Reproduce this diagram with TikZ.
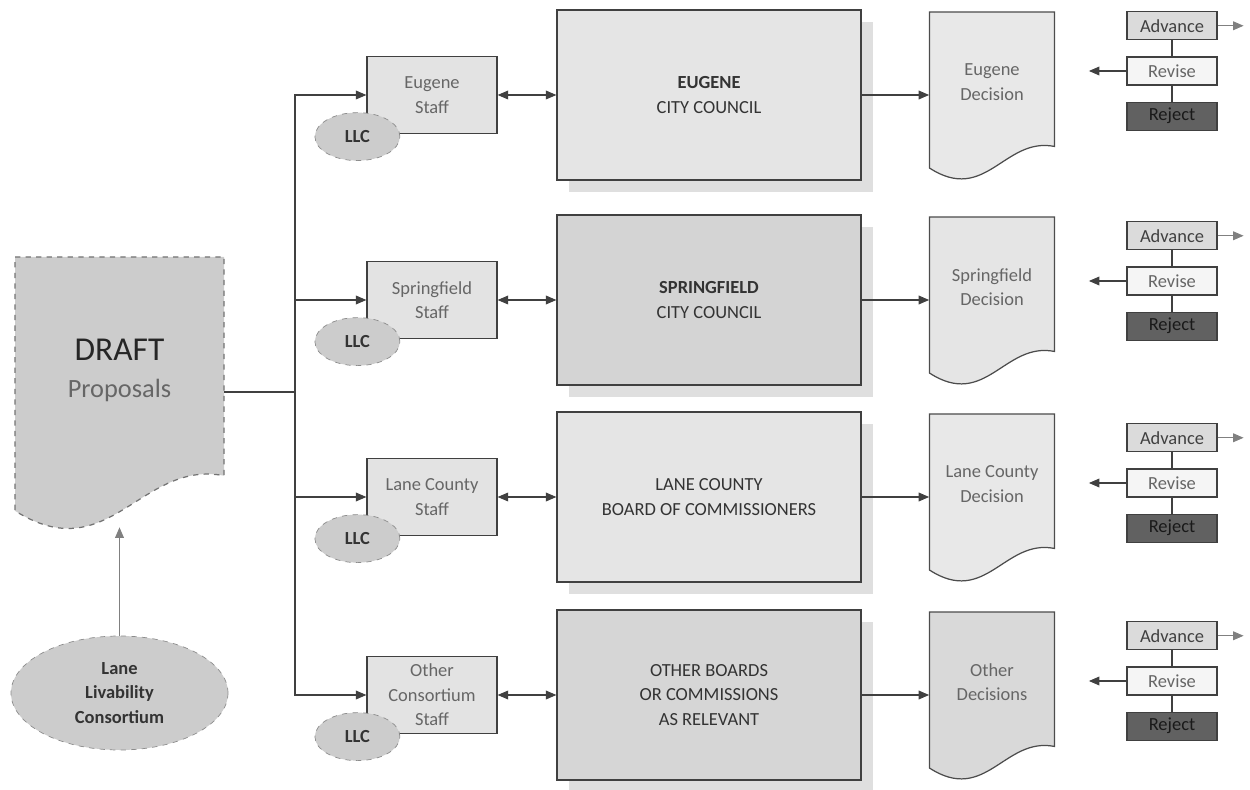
\documentclass[tikz,border=0pt]{standalone}
\usepackage{fontspec}
\setmainfont{Carlito}
\usetikzlibrary{calc,positioning,shapes.geometric,shadows,arrows.meta}

% document shape with a wavy bottom: name, x, y (centre), width, height, style
\newcommand{\drawDoc}[6]{%
  \begin{scope}[shift={({#2-#4/2},{#3+#5/2})}, xscale=#4, yscale=#5]
    \path[docline, #6] (0,0) -- (1,0) -- (1,-0.81)
      .. controls (0.6,-0.75) and (0.45,-1.16) .. (0,-0.94) -- cycle;
  \end{scope}
  \node[docbox, minimum width=#4cm, minimum height=#5cm] (#1) at (#2,#3) {};
}

\begin{document}
\begin{tikzpicture}[
  >={Triangle[length=6pt,width=5pt]},
  every node/.style={font=\fontsize{10.5}{14}\selectfont, align=center},
  conn/.style={draw=black!75, line width=0.6pt},
  lightconn/.style={draw=black!50, line width=0.6pt},
  box/.style={rectangle, draw=black!75, line width=0.7pt, fill=gray!22, text=black!60, inner sep=0pt},
  council/.style={box, text=black!80, general shadow={fill=gray!25, shadow xshift=0.24cm, shadow yshift=-0.24cm}},
  llc/.style={ellipse, draw=black!45, dashed, fill=gray!40, text=black!80, inner sep=0pt,
    font=\fontsize{10.5}{14}\selectfont\bfseries, minimum width=1.7cm, minimum height=0.96cm},
  docline/.style={draw=black!70, line width=0.7pt},
  docbox/.style={rectangle, inner sep=0pt},
  outcome/.style={box, minimum width=1.8cm, minimum height=0.56cm},
]

\useasboundingbox (0,0) rectangle (25,-15.8);

% Controls
\def\staffx{8.64}
\def\councilx{14.18}
\def\decx{19.84}
\def\outx{23.44}
\coordinate (bus) at (5.9,0);

% Draft proposals
\drawDoc{draft}{2.39}{-7.84}{4.18}{5.4}{fill=gray!40, draw=black!55, dashed}
\node[text=black!85, font=\fontsize{19}{22}\selectfont] (draft-title) at ($(draft)+(0,0.84)$) {DRAFT};
\node[text=black!60, font=\fontsize{15}{18}\selectfont] (draft-sub) at ($(draft)+(0,0.04)$) {Proposals};

% Lane Livability Consortium
\node[llc, minimum width=4.34cm, minimum height=2.28cm] (consortium) at (2.39,-13.86) {Lane\\Livability\\Consortium};
\draw[lightconn,->] (consortium) -- (draft);

% one row per body: y / id / staff / council / decision / council fill / doc fill / revise offset
\foreach \y/\id/\stafftxt/\counciltxt/\dectxt/\cfill/\dfill/\rv in {
  -1.9/eu/{Eugene\\Staff}/{\textbf{EUGENE}\\CITY COUNCIL}/{Eugene\\Decision}/gray!20/gray!18/0.48,
  -6.0/sp/{Springfield\\Staff}/{\textbf{SPRINGFIELD}\\CITY COUNCIL}/{Springfield\\Decision}/gray!34/gray!20/0.38,
  -9.94/lc/{Lane County\\Staff}/{LANE COUNTY\\BOARD OF COMMISSIONERS}/{Lane County\\Decision}/gray!20/gray!18/0.28,
  -13.9/ot/{Other\\Consortium\\Staff}/{OTHER BOARDS\\OR COMMISSIONS\\AS RELEVANT}/{Other\\Decisions}/gray!32/gray!30/0.28%
}{
  % staff and LLC
  \node[box, minimum width=2.6cm, minimum height=1.54cm] (\id-staff) at (\staffx,\y) {\stafftxt};
  \node[llc] (\id-llc) at ($(\id-staff.south west)+(-0.18,-0.05)$) {LLC};

  % council or board
  \node[council, fill=\cfill, minimum width=6.08cm, minimum height=3.4cm] (\id-council) at (\councilx,\y) {\counciltxt};

  % decision
  \drawDoc{\id-dec}{\decx}{\y}{2.5}{3.32}{fill=\dfill}
  \node[text=black!60] (\id-dectxt) at ($(\id-dec)+(0,0.26)$) {\dectxt};

  % outcomes
  \node[outcome, fill=gray!8] (\id-rev) at (\outx,{\y+\rv}) {Revise};
  \node[outcome, fill=gray!28, text=black!75, above=0.32cm of \id-rev] (\id-adv) {Advance};
  \node[outcome, fill=black!62, text=black!90, below=0.32cm of \id-rev] (\id-rej) {Reject};
  \coordinate (\id-advout) at ($(\id-adv.east)+(0.52,0)$);
  \coordinate (\id-revout) at ($(\id-rev.west)+(-0.75,0)$);

  % connectors
  \draw[conn,->] (draft.east) -- (bus |- draft.east) |- (\id-staff);
  \draw[conn,<->] (\id-staff) -- (\id-council);
  \draw[conn,->] (\id-council) -- (\id-dec);
  \draw[conn] (\id-adv) -- (\id-rev) -- (\id-rej);
  \draw[lightconn,->] (\id-adv) -- (\id-advout);
  \draw[conn,->] (\id-rev) -- (\id-revout);
}

\end{tikzpicture}
\end{document}
